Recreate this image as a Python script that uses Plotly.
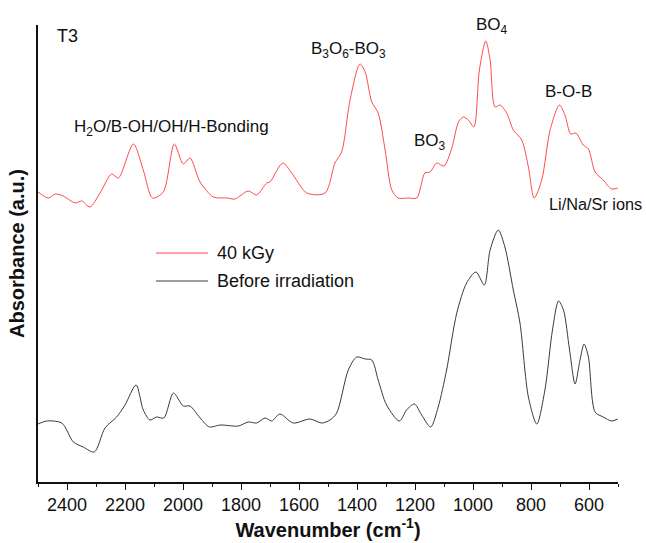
import plotly.graph_objects as go

# ---- data ----
wn_irr = [2500, 2464, 2441, 2413, 2372, 2349, 2321, 2286, 2246, 2223, 2171, 2137, 2105, 2068,
          2030, 1999, 1976, 1941, 1895, 1849, 1821, 1775, 1746, 1711, 1700, 1656, 1625, 1573,
          1510, 1476, 1453, 1424, 1390, 1372, 1349, 1327, 1303, 1280, 1258, 1223, 1194, 1166,
          1148, 1125, 1100, 1073, 1050, 1033, 1016, 997, 978, 956, 941, 924, 907, 884, 861,
          832, 809, 789, 763, 734, 702, 683, 663, 645, 620, 602, 579, 551, 522, 501]
abs_irr = [2.90, 2.84, 2.88, 2.86, 2.79, 2.81, 2.75, 2.89, 3.08, 3.04, 3.38, 3.12, 2.84, 2.90,
           3.38, 3.18, 3.24, 3.00, 2.85, 2.84, 2.83, 2.91, 2.87, 2.99, 3.00, 3.19, 3.09, 2.89,
           2.89, 3.19, 3.30, 3.82, 4.18, 4.10, 3.80, 3.69, 3.32, 2.92, 2.84, 2.84, 2.84, 3.09,
           3.10, 3.19, 3.16, 3.34, 3.60, 3.65, 3.62, 3.55, 4.12, 4.41, 4.22, 3.75, 3.77, 3.69, 3.52,
           3.42, 3.15, 2.84, 3.02, 3.52, 3.77, 3.67, 3.48, 3.49, 3.37, 3.33, 3.10, 3.02, 2.93, 2.94]

wn_before = [2500, 2470, 2418, 2378, 2344, 2306, 2269, 2229, 2200, 2162, 2137, 2114, 2091, 2066,
             2033, 1999, 1976, 1941, 1909, 1872, 1809, 1775, 1746, 1717, 1694, 1666, 1620, 1562,
             1522, 1493, 1470, 1430, 1401, 1372, 1349, 1327, 1298, 1254, 1229, 1202, 1177, 1146,
             1120, 1091, 1056, 1022, 990, 961, 941, 913, 890, 861, 838, 809, 780, 752, 726, 705,
             688, 667, 648, 631, 617, 602, 579, 551, 522, 501]
abs_before = [0.58, 0.61, 0.59, 0.40, 0.35, 0.30, 0.54, 0.65, 0.77, 0.97, 0.72, 0.62, 0.65, 0.64,
              0.89, 0.76, 0.76, 0.64, 0.55, 0.57, 0.56, 0.60, 0.59, 0.64, 0.61, 0.68, 0.59, 0.63,
              0.59, 0.62, 0.69, 1.12, 1.25, 1.23, 1.22, 1.02, 0.77, 0.61, 0.72, 0.78, 0.67, 0.55,
              0.75, 1.12, 1.69, 1.99, 2.10, 1.97, 2.32, 2.52, 2.35, 1.92, 1.59, 0.85, 0.58, 0.92, 1.52, 1.81,
              1.72, 1.32, 0.98, 1.22, 1.38, 1.25, 0.70, 0.65, 0.61, 0.63]

series_names = ["40 kGy", "Before irradiation"]
series_colors = ["#ff4a4a", "#3a3a3a"]
x_ticks = [2400, 2200, 2000, 1800, 1600, 1400, 1200, 1000, 800, 600]

band_labels = ["T3", "H<sub>2</sub>O/B-OH/OH/H-Bonding", "B<sub>3</sub>O<sub>6</sub>-BO<sub>3</sub>",
               "BO<sub>4</sub>", "BO<sub>3</sub>", "B-O-B", "Li/Na/Sr ions"]

FONT = "Arial, Liberation Sans, sans-serif"
TXT = "#111"

fig = go.Figure()
for xs, ys, nm, col in [(wn_irr, abs_irr, series_names[0], series_colors[0]),
                        (wn_before, abs_before, series_names[1], series_colors[1])]:
    fig.add_trace(go.Scatter(x=xs, y=ys, mode="lines", name=nm, showlegend=False,
                             line=dict(color=col, width=1, shape="spline", smoothing=0.8)))

# band annotations (data coordinates)
ann_pos = [
    (2441, 4.46, "left", 18),
    (2038, 3.54, "center", 17),
    (1431, 4.32, "center", 17),
    (934, 4.56, "center", 17),
    (1147, 3.40, "center", 17),
    (672, 3.91, "center", 17),
    (745, 2.78, "left", 16.3),
]
for (ax, ay, anc, fs), txt in zip(ann_pos, band_labels):
    fig.add_annotation(x=ax, y=ay, xref="x", yref="y", text=txt, showarrow=False,
                       xanchor=anc, yanchor="middle",
                       font=dict(family=FONT, size=fs, color=TXT))

# legend (drawn in paper coordinates)
leg_y = [0.501, 0.4398]
for nm, col, ly in zip(series_names, series_colors, leg_y):
    fig.add_shape(type="line", xref="paper", yref="paper", x0=0.2034, x1=0.2931, y0=ly, y1=ly,
                  line=dict(color=col, width=1))
    fig.add_annotation(x=0.3052, y=ly, xref="paper", yref="paper", text=nm, showarrow=False,
                       xanchor="left", yanchor="middle",
                       font=dict(family=FONT, size=18, color=TXT))

fig.update_layout(
    width=646, height=543,
    margin=dict(l=38, r=28, t=25, b=61),
    plot_bgcolor="white", paper_bgcolor="white",
    font=dict(family=FONT, size=18, color=TXT),
    showlegend=False,
    xaxis=dict(range=[2500, 500], tickvals=x_ticks, ticks="outside", ticklen=6, tickwidth=1.3,
               tickcolor=TXT, showline=True, linecolor=TXT, linewidth=1.5,
               showgrid=False, zeroline=False,
               minor=dict(dtick=100, tick0=500, ticks="outside", ticklen=3, tickwidth=1.3,
                          tickcolor=TXT, showgrid=False),
               tickfont=dict(family=FONT, size=18, color=TXT),
               title=dict(text="<b>Wavenumber (cm<sup>-1</sup>)</b>", standoff=2,
                          font=dict(family=FONT, size=20, color=TXT))),
    yaxis=dict(range=[0, 4.57], showticklabels=False, ticks="", showline=True,
               linecolor=TXT, linewidth=1.5, showgrid=False, zeroline=False,
               title=dict(text="<b>Absorbance (a.u.)</b>", standoff=6,
                          font=dict(family=FONT, size=20, color=TXT))),
)

fig.write_html("out.html")
